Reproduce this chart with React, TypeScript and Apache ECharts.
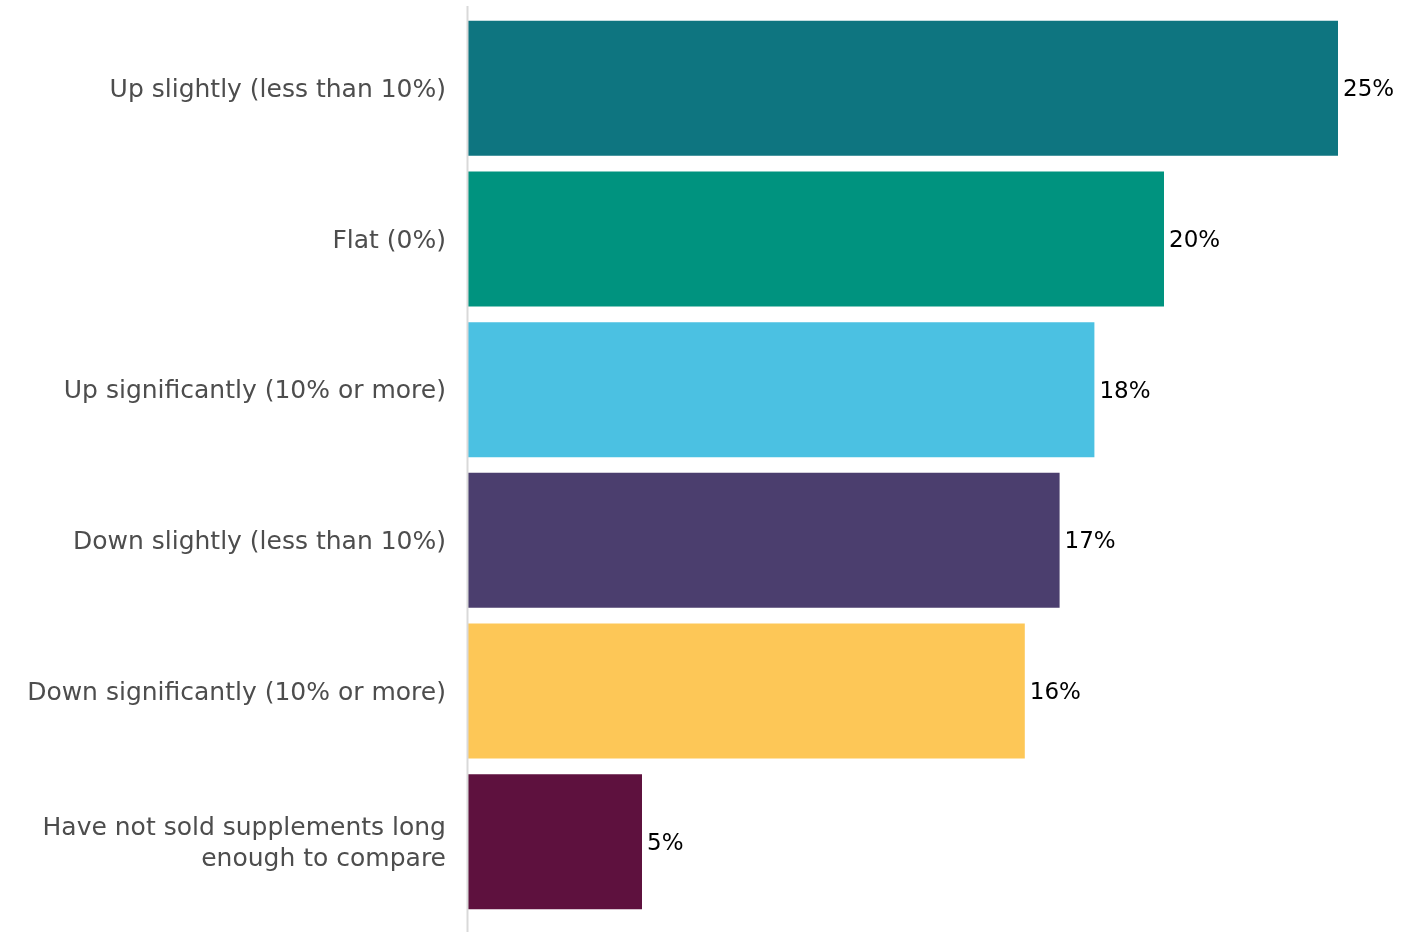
import React, { useEffect, useRef } from "react";
import * as echarts from "echarts";

const categories = [
  "Up slightly (less than 10%)",
  "Flat (0%)",
  "Up significantly (10% or more)",
  "Down slightly (less than 10%)",
  "Down significantly (10% or more)",
  "Have not sold supplements long\nenough to compare",
];
const values = [25, 20, 18, 17, 16, 5];
const colors = ["#0e7580", "#00937f", "#4bc1e2", "#4b3e6e", "#fdc757", "#5e113e"];

export default function App() {
  const ref = useRef<HTMLDivElement>(null);
  useEffect(() => {
    const chart = echarts.init(ref.current!, null, { renderer: "svg" });
    chart.setOption({
      animation: false,
      grid: { left: 468, right: 64, top: 13, bottom: 15, containLabel: false },
      xAxis: { type: "value", min: 0, max: 25, show: false },
      yAxis: {
        type: "category",
        inverse: true,
        data: categories,
        axisLine: { show: false },
        axisTick: { show: false },
        axisLabel: {
          margin: 22,
          fontFamily: "DejaVu Sans",
          fontSize: 25,
          color: "#4d4d4d",
          lineHeight: 31,
          align: "right",
          padding: [0, 0, 4, 0],
        },
      },
      graphic: [
        {
          type: "line",
          shape: { x1: 467.5, y1: 6, x2: 467.5, y2: 932 },
          style: { stroke: "#d9d9d9", lineWidth: 2 },
          z: 10,
        },
      ],
      series: [
        {
          type: "bar",
          barWidth: 135,
          data: values.map((v, i) => ({ value: v, itemStyle: { color: colors[i] } })),
          label: {
            show: true,
            position: "right",
            distance: 5,
            formatter: "{c}%",
            fontFamily: "DejaVu Sans",
            fontSize: 23,
            color: "#000000",
            padding: [0, 0, 3, 0],
          },
        },
      ],
    });
    return () => chart.dispose();
  }, []);
  return <div ref={ref} style={{ position: "fixed", left: 0, top: 0, width: 1402, height: 932 }} />;
}
